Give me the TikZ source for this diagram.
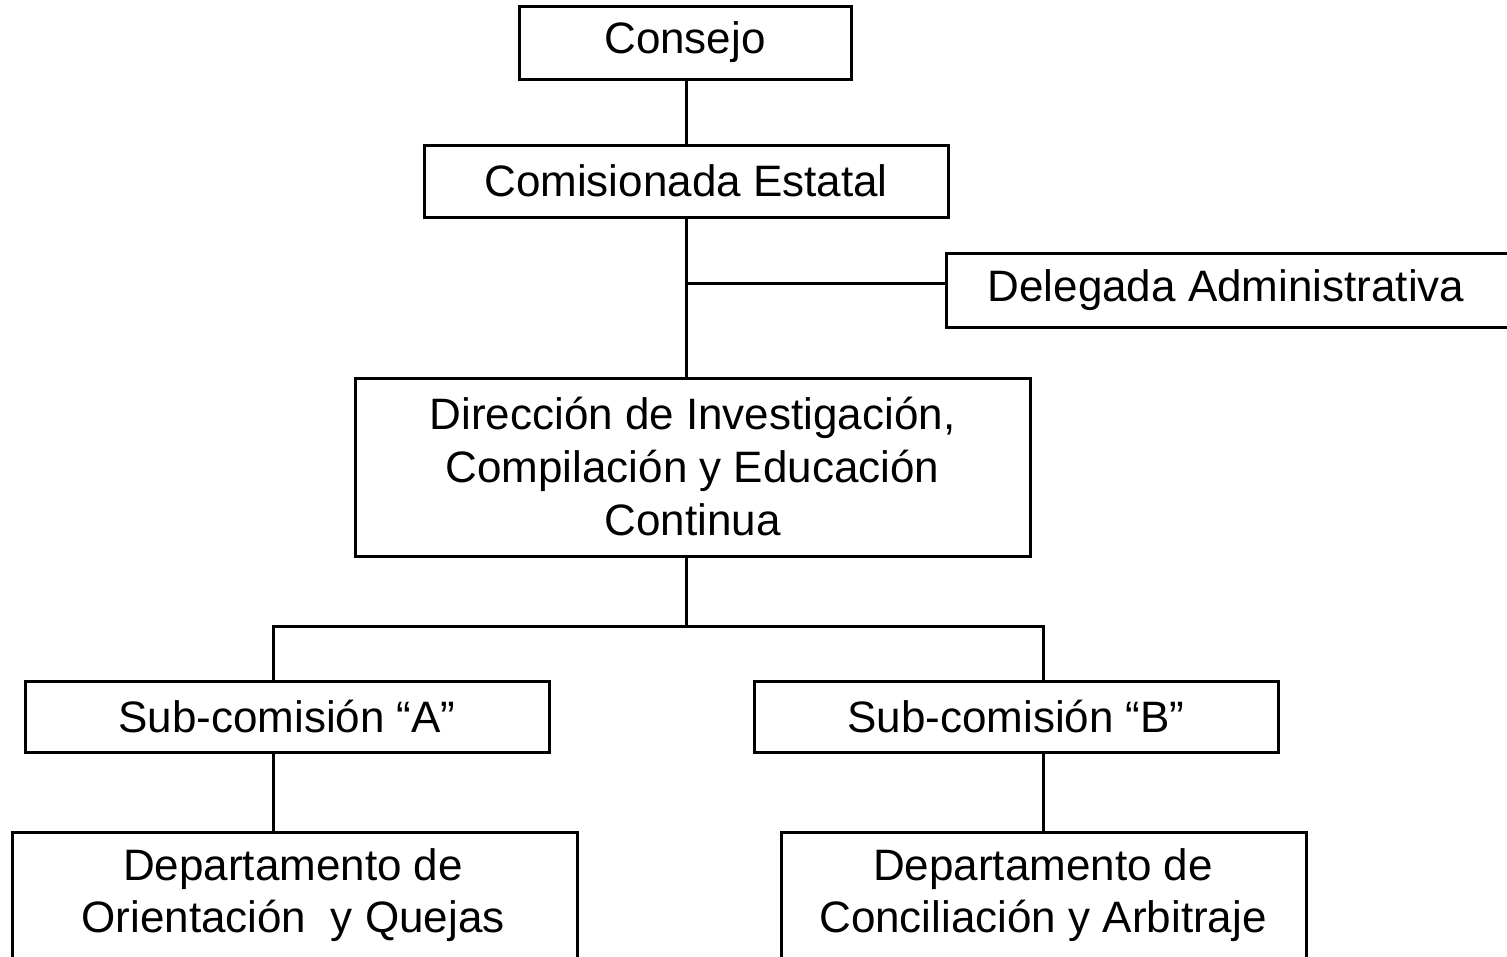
\documentclass[tikz,border=0pt]{standalone}
\usepackage{fontspec}
\setmainfont{Liberation Sans}
\begin{document}
\begin{tikzpicture}[x=1pt,y=-1pt,
  box/.style={draw=black,line width=3pt,inner sep=0pt,align=center,
    font=\fontsize{44}{53}\selectfont},
  txt/.style={inner sep=0pt,align=center,font=\fontsize{44}{52.5}\selectfont},
  conn/.style={draw=black,line width=3pt}]
\clip (0,0) rectangle (1507,956);
\useasboundingbox (0,0) rectangle (1507,956);
\fill[white] (0,0) rectangle (1507,956);
\node[box,minimum width=332pt,minimum height=73pt] (consejo) at (685,42.5) {Consejo};
\node[box,minimum width=524pt,minimum height=72pt] (comis) at (686,181) {Comisionada Estatal};
\node[box,minimum width=600pt,minimum height=74pt] (deleg) at (1246,290) {};
\node[txt] (delegt) at (1226,290) {Delegada Administrativa};
\node[box,minimum width=675pt,minimum height=178pt] (dir) at (692.5,467) {Dirección de Investigación,\\Compilación y Educación\\Continua};
\node[box,minimum width=524pt,minimum height=71pt] (subA) at (287,716.5) {Sub-comisión “A”};
\node[box,minimum width=524pt,minimum height=71pt] (subB) at (1016,716.5) {Sub-comisión “B”};
\node[box,minimum width=565pt,minimum height=168pt] (deptA) at (294.5,916) {};
\node[txt] (deptAt) at (293,895) {Departamento de\\Orientación\ \ y Quejas};
\node[box,minimum width=525pt,minimum height=168pt] (deptB) at (1043.5,916) {};
\node[txt] (deptBt) at (1043,895) {Departamento de\\Conciliación y Arbitraje};
\coordinate (j1) at (686,283);
\coordinate (j2) at (686,626);
\coordinate (jA) at (273,626);
\coordinate (jB) at (1043,626);
\draw[conn] (comis.north |- consejo.south) -- (comis.north);
\draw[conn] (comis.south) -- (comis.south |- dir.north);
\draw[conn] (j1) -- (j1 -| deleg.west);
\draw[conn] (comis.south |- dir.south) -- (j2);
\draw[conn] (jA |- subA.north) -- (jA) -- (jB) -- (jB |- subB.north);
\draw[conn] (jA |- subA.south) -- (jA |- deptA.north);
\draw[conn] (jB |- subB.south) -- (jB |- deptB.north);
\end{tikzpicture}
\end{document}
